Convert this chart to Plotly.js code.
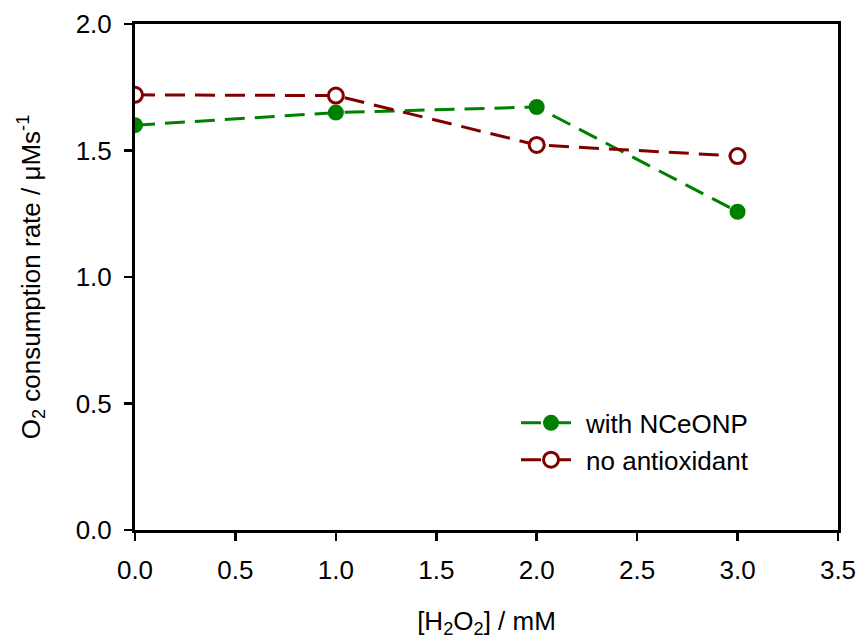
<!DOCTYPE html>
<html><head><meta charset="utf-8">
<script src="https://cdn.plot.ly/plotly-3.0.1.min.js"></script>
<style>body{margin:0;background:#fff}#c{width:860px;height:639px}</style>
</head><body><div id="c"></div>
<script>
const h2o2 = [0, 1, 2, 3];
const withNCeONP = [1.60, 1.65, 1.672, 1.258];
const noAntioxidant = [1.72, 1.717, 1.522, 1.478];
const xTicks = [0, 0.5, 1, 1.5, 2, 2.5, 3, 3.5];
const xTickLabels = ["0.0","0.5","1.0","1.5","2.0","2.5","3.0","3.5"];
const yTicks = [0, 0.5, 1, 1.5, 2];
const yTickLabels = ["0.0","0.5","1.0","1.5","2.0"];

const font = {family: "Liberation Sans, Arial, sans-serif", size: 26, color: "#000"};
const traces = [
  {x: h2o2, y: withNCeONP, name: "with NCeONP", mode: "lines+markers",
   line: {color: "#008000", dash: "20px,10px", width: 3},
   marker: {color: "#008000", size: 16, symbol: "circle"}},
  {x: h2o2, y: noAntioxidant, name: "no antioxidant", mode: "lines+markers",
   line: {color: "#800000", dash: "20px,10px", width: 3},
   marker: {color: "#fff", size: 15, symbol: "circle", line: {color: "#800000", width: 3}}}
];
const layout = {
  width: 860, height: 639,
  margin: {l: 135, r: 22, t: 24, b: 109},
  paper_bgcolor: "#fff", plot_bgcolor: "#fff",
  font: font,
  showlegend: true,
  legend: {x: 0.542, y: 0.258, xanchor: "left", yanchor: "top", bgcolor: "rgba(0,0,0,0)",
           font: font, tracegroupgap: 0, itemwidth: 60},
  xaxis: {range: [0, 3.5], tickvals: xTicks, ticktext: xTickLabels, showgrid: false, zeroline: false,
          showline: true, linecolor: "#000", linewidth: 3, mirror: true,
          ticks: "outside", ticklen: 8, tickwidth: 2.5, tickcolor: "#000",
          ticklabelstandoff: 7,
          tickfont: font,
          title: {text: "[H<sub>2</sub>O<sub>2</sub>] / mM", font: font, standoff: 38}},
  yaxis: {range: [0, 2], tickvals: yTicks, ticktext: yTickLabels, showgrid: false, zeroline: false,
          showline: true, linecolor: "#000", linewidth: 3, mirror: true,
          ticks: "outside", ticklen: 8, tickwidth: 2.5, tickcolor: "#000",
          ticklabelstandoff: 7,
          tickfont: font,
          title: {text: "O<sub>2</sub> consumption rate / μMs<sup>-1</sup>", font: font, standoff: 28}}
};
Plotly.newPlot("c", traces, layout, {displayModeBar: false, staticPlot: true});
</script></body></html>
